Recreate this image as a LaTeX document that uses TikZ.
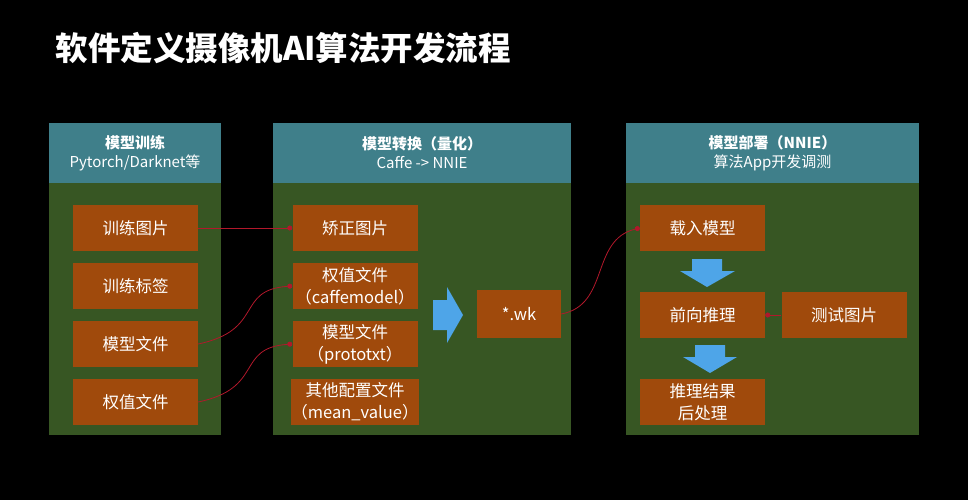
\documentclass[tikz,border=0pt]{standalone}
\usepackage{fontspec}
\setmainfont{Noto Sans CJK SC}
\usetikzlibrary{arrows.meta}
\definecolor{panelbg}{HTML}{375623}
\definecolor{headbg}{HTML}{3F7F8A}
\definecolor{boxbg}{HTML}{A04A0C}
\definecolor{flow}{HTML}{B2182B}
\definecolor{bigarrow}{HTML}{4EA5E8}
\tikzset{
  head/.style={fill=headbg, text=white, align=center, font=\fontsize{15}{19}\selectfont, inner sep=0pt},
  stage/.style={fill=boxbg, text=white, align=center, font=\fontsize{16.5}{22}\selectfont, minimum width=125pt, minimum height=46pt, inner sep=0pt},
  link/.style={flow, line width=0.8pt, -{Circle[length=5pt]}}
}
\begin{document}
\begin{tikzpicture}[x=1pt,y=-1pt]
  \fill[black] (0,0) rectangle (968,500);
  \useasboundingbox (0,0) rectangle (968,500);
  \node[anchor=west, text=white, font=\fontsize{32.5}{38}\selectfont\bfseries] (title) at (52,48) {软件定义摄像机AI算法开发流程};
  % panels
  \fill[panelbg] (49,123) rectangle (221,435);
  \fill[panelbg] (273,123) rectangle (571,435);
  \fill[panelbg] (626,123) rectangle (919,435);
  \node[head, minimum width=172pt, minimum height=60pt] (h1) at (135,153) {\textbf{模型训练}\\Pytorch/Darknet等};
  \node[head, minimum width=298pt, minimum height=60pt] (h2) at (422,153) {\textbf{模型转换（量化）}\\Caffe -> NNIE};
  \node[head, minimum width=293pt, minimum height=60pt] (h3) at (772.5,153) {\textbf{模型部署（NNIE）}\\算法App开发调测};
  % training
  \node[stage] (train-img) at (135.5,228) {训练图片};
  \node[stage] (train-lbl) at (135.5,286) {训练标签};
  \node[stage] (model-file) at (135.5,344) {模型文件};
  \node[stage] (weight-file) at (135.5,402) {权值文件};
  % conversion
  \node[stage] (fix-img) at (355,228) {矫正图片};
  \node[stage] (caffemodel) at (355,286) {权值文件\\（caffemodel）};
  \node[stage] (prototxt) at (355,344) {模型文件\\（prototxt）};
  \node[stage] (meanval) at (355,402) {其他配置文件\\（mean\_value）};
  \fill[bigarrow] (433,300) -- (447,300) -- (447,287) -- (463,315) -- (447,343) -- (447,330) -- (433,330) -- cycle;
  \node[stage, minimum width=84pt, minimum height=48pt] (wk) at (519,314) {*.wk};
  % deployment
  \node[stage] (load) at (702.5,228) {载入模型};
  \fill[bigarrow] (692,259) -- (722,259) -- (722,271) -- (735,271) -- (707,287) -- (680,271) -- (692,271) -- cycle;
  \node[stage] (infer) at (702.5,315) {前向推理};
  \node[stage] (test-img) at (844,315) {测试图片};
  \fill[bigarrow] (695,345) -- (725,345) -- (725,357) -- (737,357) -- (710,373) -- (683,357) -- (695,357) -- cycle;
  \node[stage] (post) at (702.5,402) {推理结果\\后处理};
  % links
  \draw[link] (train-img.east) -- (fix-img.west);
  \draw[link] (model-file.east) .. controls (265,330) and (235,290) .. (caffemodel.west);
  \draw[link] (weight-file.east) .. controls (265,388) and (235,348) .. (prototxt.west);
  \draw[link] (wk.east) .. controls (610,305) and (590,240) .. (load.west);
  \draw[link] (test-img.west) -- (infer.east);
\end{tikzpicture}
\end{document}
